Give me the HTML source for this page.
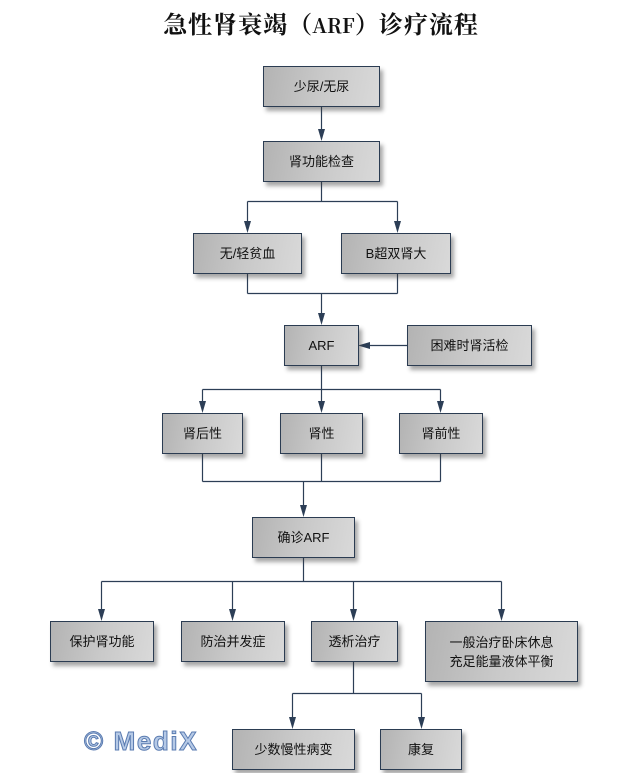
<!DOCTYPE html>
<html><head><meta charset="utf-8"><style>
html,body{margin:0;padding:0;background:#fff;}
body{width:642px;height:773px;position:relative;overflow:hidden;}
.t{position:absolute;left:0;width:642px;top:10px;text-align:center;font-family:"Noto Serif CJK SC","Liberation Serif",serif;font-weight:bold;font-size:24px;line-height:26px;color:#111;letter-spacing:1px;}
.b{position:absolute;box-sizing:border-box;border:1.3px solid #2b3c52;background:linear-gradient(100deg,#b3b3b3 0%,#c9c9c9 50%,#d9d9d9 100%);box-shadow:3px 4px 4px rgba(60,60,60,0.45);display:flex;align-items:center;justify-content:center;text-align:center;font-family:"Liberation Sans","Noto Sans CJK SC",sans-serif;font-size:13px;line-height:19px;color:#111;}
svg{position:absolute;left:0;top:0;}
.m{position:absolute;left:84px;top:726px;font-family:"Liberation Sans",sans-serif;font-weight:bold;font-size:26px;line-height:30px;color:#b5c9e6;-webkit-text-stroke:1px #5a7bb0;letter-spacing:1.6px;}
</style></head><body>
<div class="t">急性肾衰竭<span style="letter-spacing:0">（</span><span style="font-size:20px;letter-spacing:0">ARF</span><span style="letter-spacing:0">）</span>诊疗流程</div>

<svg width="642" height="773" viewBox="0 0 642 773">
<g stroke="#2c3e56" stroke-width="1.2" fill="none">
<path d="M321.5 106V135"/>
<path d="M321.5 181V201.5M247.5 201.5H397.5M247.5 201.5V227M397.5 201.5V227"/>
<path d="M247.5 273V293.5M397.5 273V293.5M247.5 293.5H397.5M321.5 293.5V319"/>
<path d="M407 345.5H364"/>
<path d="M321.5 365V389.5M202.5 389.5H440.5M202.5 389.5V407M321.5 389.5V407M440.5 389.5V407"/>
<path d="M202.5 453V481.5M321.5 453V481.5M440.5 453V481.5M202.5 481.5H440.5M303.5 481.5V511"/>
<path d="M303.5 557V581.5M101.5 581.5H501.5M101.5 581.5V615M232.5 581.5V615M353.5 581.5V615M501.5 581.5V615"/>
<path d="M353.5 661V693.5M292.5 693.5H421.5M292.5 693.5V723M421.5 693.5V723"/>
</g>
<g fill="#2c3e56">
<polygon points="318,129 325,129 321.5,141"/>
<polygon points="244,221 251,221 247.5,233"/>
<polygon points="394,221 401,221 397.5,233"/>
<polygon points="318,313 325,313 321.5,325"/>
<polygon points="370,342 370,349 358,345.5"/>
<polygon points="199,401 206,401 202.5,413"/>
<polygon points="318,401 325,401 321.5,413"/>
<polygon points="437,401 444,401 440.5,413"/>
<polygon points="300,505 307,505 303.5,517"/>
<polygon points="98,609 105,609 101.5,621"/>
<polygon points="229,609 236,609 232.5,621"/>
<polygon points="350,609 357,609 353.5,621"/>
<polygon points="498,609 505,609 501.5,621"/>
<polygon points="289,717 296,717 292.5,729"/>
<polygon points="418,717 425,717 421.5,729"/>
</g>
</svg>

<div class="b" style="left:263px;top:66px;width:117px;height:41px;">少尿/无尿</div>
<div class="b" style="left:263px;top:141px;width:117px;height:41px;">肾功能检查</div>
<div class="b" style="left:193px;top:233px;width:109px;height:41px;">无/轻贫血</div>
<div class="b" style="left:341px;top:233px;width:110px;height:41px;">B超双肾大</div>
<div class="b" style="left:284px;top:325px;width:75px;height:41px;">ARF</div>
<div class="b" style="left:407px;top:325px;width:125px;height:41px;">困难时肾活检</div>
<div class="b" style="left:162px;top:413px;width:81px;height:41px;">肾后性</div>
<div class="b" style="left:280px;top:413px;width:83px;height:41px;">肾性</div>
<div class="b" style="left:399px;top:413px;width:84px;height:41px;">肾前性</div>
<div class="b" style="left:252px;top:517px;width:103px;height:41px;">确诊ARF</div>
<div class="b" style="left:50px;top:621px;width:104px;height:41px;">保护肾功能</div>
<div class="b" style="left:181px;top:621px;width:104px;height:41px;">防治并发症</div>
<div class="b" style="left:311px;top:621px;width:87px;height:41px;">透析治疗</div>
<div class="b" style="left:425px;top:621px;width:153px;height:61px;">一般治疗卧床休息<br>充足能量液体平衡</div>
<div class="b" style="left:232px;top:729px;width:123px;height:41px;">少数慢性病变</div>
<div class="b" style="left:380px;top:729px;width:82px;height:41px;">康复</div>

<div class="m">© MediX</div>
</body></html>
